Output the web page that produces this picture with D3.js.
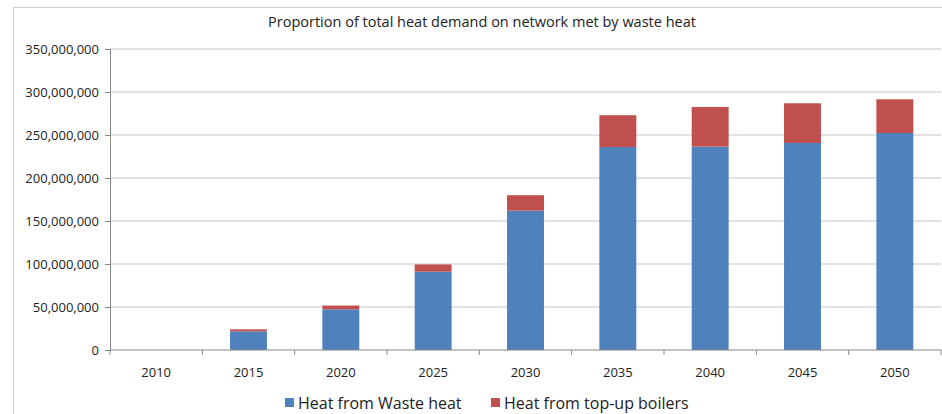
<!DOCTYPE html>
<html>
<head>
<meta charset="utf-8">
<script src="https://cdn.jsdelivr.net/npm/d3@7"></script>
<style>
  body { margin: 0; background: #fff; }
  text { font-family: "Open Sans", "Liberation Sans", sans-serif; fill: #222; }
</style>
</head>
<body>
<svg id="chart" width="942" height="414"></svg>
<script>
// data
const years = ['2010', '2015', '2020', '2025', '2030', '2035', '2040', '2045', '2050'];
const wasteHeat = [0, 21.7e6, 47.3e6, 91e6, 162e6, 236e6, 236.5e6, 240.7e6, 252.3e6];
const topUpBoilers = [0, 2.3e6, 4.4e6, 8.5e6, 18e6, 37e6, 46.1e6, 46.2e6, 39.2e6];
const yTicks = [0, 50e6, 100e6, 150e6, 200e6, 250e6, 300e6, 350e6];
const seriesNames = ['Heat from Waste heat', 'Heat from top-up boilers'];
const seriesColors = ['#4F81BD', '#C0504D'];

const svg = d3.select('#chart');
const margin = {left: 110, top: 49, right: 941, bottom: 350};

// outer frame
svg.append('rect')
    .attr('x', 13.5).attr('y', 7.5)
    .attr('width', 960).attr('height', 420)
    .attr('fill', 'none')
    .attr('stroke', '#d0d0d0');

const x = d3.scaleBand()
    .domain(years)
    .range([margin.left, margin.right])
    .paddingInner(0.6)
    .paddingOuter(0.3);

const y = d3.scaleLinear()
    .domain([0, 350e6])
    .range([margin.bottom, margin.top]);

// gridlines
svg.append('g')
    .selectAll('line')
    .data(yTicks.slice(1))
    .join('line')
    .attr('x1', margin.left)
    .attr('x2', margin.right)
    .attr('y1', d => y(d))
    .attr('y2', d => y(d))
    .attr('stroke', '#d9d9d9')
    .attr('stroke-width', 1.5);

// stacked bars
const rows = years.map((yr, i) => ({year: yr, waste: wasteHeat[i], boilers: topUpBoilers[i]}));
const stack = d3.stack().keys(['waste', 'boilers'])(rows);

svg.append('g')
    .selectAll('g')
    .data(stack)
    .join('g')
    .attr('fill', (d, i) => seriesColors[i])
    .selectAll('rect')
    .data(d => d)
    .join('rect')
    .attr('x', d => x(d.data.year))
    .attr('width', x.bandwidth())
    .attr('y', d => y(d[1]))
    .attr('height', d => y(d[0]) - y(d[1]));

// y axis
const yAxis = svg.append('g')
    .attr('transform', `translate(${margin.left},0)`)
    .call(d3.axisLeft(y).tickValues(yTicks).tickSize(5).tickPadding(6).tickFormat(d3.format(',')));
yAxis.select('.domain').attr('stroke', '#868686');
yAxis.selectAll('.tick line').attr('stroke', '#868686');
yAxis.selectAll('text').attr('font-size', 13).attr('fill', '#222');

// x axis: ticks sit between categories
const step = x.step();
const xAxis = svg.append('g')
    .attr('transform', `translate(0,${margin.bottom})`);
xAxis.append('line')
    .attr('x1', margin.left).attr('x2', margin.right)
    .attr('stroke', '#868686');
xAxis.selectAll('line.tk')
    .data(d3.range(years.length + 1))
    .join('line')
    .attr('class', 'tk')
    .attr('x1', i => margin.left + i * step)
    .attr('x2', i => margin.left + i * step)
    .attr('y1', 0).attr('y2', 5)
    .attr('stroke', '#868686');
xAxis.selectAll('text')
    .data(years)
    .join('text')
    .attr('x', d => x(d) + x.bandwidth() / 2)
    .attr('y', 27)
    .attr('text-anchor', 'middle')
    .attr('font-size', 13)
    .text(d => d);

// title
svg.append('text')
    .attr('x', 482)
    .attr('y', 27)
    .attr('text-anchor', 'middle')
    .attr('font-size', 14.5)
    .text('Proportion of total heat demand on network met by waste heat');

// legend
const legendX = [285, 491];
const legend = svg.append('g')
    .selectAll('g')
    .data(seriesNames)
    .join('g')
    .attr('transform', (d, i) => `translate(${legendX[i]},398)`);
legend.append('rect')
    .attr('width', 9).attr('height', 9)
    .attr('y', 0)
    .attr('fill', (d, i) => seriesColors[i]);
legend.append('text')
    .attr('x', 13)
    .attr('y', 11)
    .attr('font-size', 16)
    .text(d => d);
</script>
</body>
</html>
